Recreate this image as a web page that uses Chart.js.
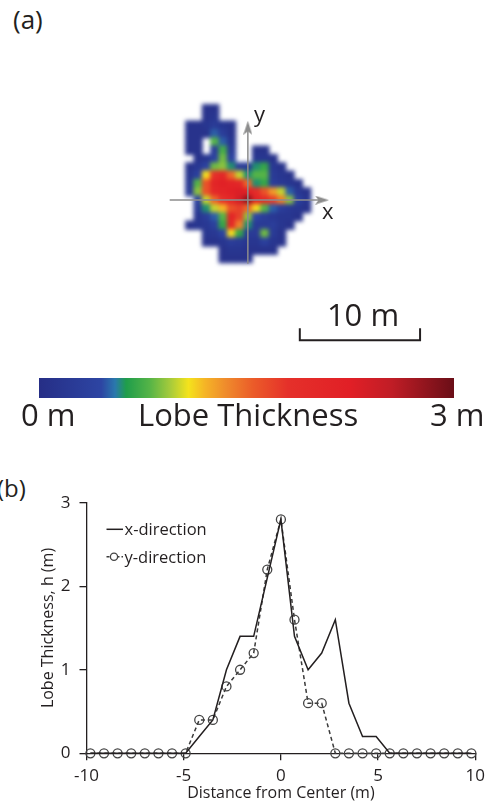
<!DOCTYPE html>
<html>
<head>
<meta charset="utf-8">
<title>Lobe thickness</title>
<script src="https://cdn.jsdelivr.net/npm/chart.js@4.4.0/dist/chart.umd.min.js"></script>
<style>
  body { margin: 0; background: #fff; }
  #page { position: relative; width: 491px; height: 805px; overflow: hidden;
          font-family: "Open Sans", sans-serif; color: #231f20; }
  .lbl { position: absolute; white-space: nowrap; line-height: 1; }
  canvas { position: absolute; }
</style>
</head>
<body>
<div id="page">
  <div class="lbl" style="left:13px;top:6px;font-size:26px">(a)</div>
  <canvas id="mapChart" width="290" height="280" style="left:150px;top:80px"></canvas>
  <canvas id="mapAxes" width="290" height="280" style="left:150px;top:80px"></canvas>
  <div class="lbl" style="left:254px;top:102px;font-size:22px">y</div>
  <div class="lbl" style="left:322px;top:199px;font-size:22px">x</div>
  <div class="lbl" style="left:263px;top:299px;width:200px;text-align:center;font-size:31px">10 m</div>

  <canvas id="colorBar" width="415" height="20" style="left:39px;top:378px"></canvas>
  <div class="lbl" style="left:21px;top:399px;font-size:31px">0 m</div>
  <div class="lbl" style="left:138px;top:399px;width:200px;text-align:center;font-size:31px">Lobe Thickness</div>
  <div class="lbl" style="left:430px;top:399px;font-size:31px">3 m</div>

  <div class="lbl" style="left:-3px;top:476px;font-size:24px">(b)</div>
  <canvas id="profileChart" width="491" height="325" style="left:0;top:480px"></canvas>
</div>

<script>
// ---- panel (b) profiles ----
var distance = [-9.8, -9.1, -8.4, -7.7, -7.0, -6.3, -5.6, -4.9, -4.2, -3.5, -2.8, -2.1, -1.4, -0.7, 0,
                0.7, 1.4, 2.1, 2.8, 3.5, 4.2, 4.9, 5.6, 6.3, 7.0, 7.7, 8.4, 9.1, 9.8];
var xDirection = [0, 0, 0, 0, 0, 0, 0, 0, 0.2, 0.4, 1.0, 1.4, 1.4, 2.1, 2.8,
                  1.4, 1.0, 1.2, 1.6, 0.6, 0.2, 0.2, 0, 0, 0, 0, 0, 0, 0];
var yDirection = [0, 0, 0, 0, 0, 0, 0, 0, 0.4, 0.4, 0.8, 1.0, 1.2, 2.2, 2.8,
                  1.6, 0.6, 0.6, 0, 0, 0, 0, 0, 0, 0, 0, 0, 0, 0];
var distanceTicks = [-10, -5, 0, 5, 10];
var thicknessTicks = [0, 1, 2, 3];

// ---- panel (a) thickness map, 0.7 m cells ----
var mapX = [-4.9, -4.2, -3.5, -2.8, -2.1, -1.4, -0.7, 0, 0.7, 1.4, 2.1, 2.8, 3.5, 4.2, 4.9];
var mapY = [7.7, 7.0, 6.3, 5.6, 4.9, 4.2, 3.5, 2.8, 2.1, 1.4, 0.7, 0, -0.7, -1.4, -2.1, -2.8, -3.5, -4.2, -4.9];
var n = null;
var mapThickness = [
  [n, n, .1, .1, n, n, n, n, n, n, n, n, n, n, n],
  [n, n, .1, .15, n, n, n, n, n, n, n, n, n, n, n],
  [.1, .1, .15, .25, .15, .1, n, n, n, n, n, n, n, n, n],
  [.1, .1, .1, .5, .3, .1, n, n, n, n, n, n, n, n, n],
  [.1, .1, n, .8, .5, .15, n, n, n, n, n, n, n, n, n],
  [.1, .1, n, .3, .75, .25, n, n, .1, .1, n, n, n, n, n],
  [n, .1, .15, .4, .85, .4, n, n, .15, .15, .1, n, n, n, n],
  [.1, .2, .4, .85, .9, .6, .3, .25, .6, .7, .2, .1, n, n, n],
  [.15, .35, 1.1, 1.8, 2.0, 1.5, 1.0, .6, .8, .8, .25, .15, .1, n, n],
  [.2, .8, 1.6, 2.1, 2.2, 2.1, 2.0, 1.5, .6, .7, .3, .2, .15, .1, n],
  [.25, .9, 1.6, 2.0, 2.1, 2.2, 2.3, 2.2, 1.9, 1.6, 1.3, 1.0, .5, .2, .1],
  [n, .4, 1.0, 1.5, 1.8, 2.0, 2.4, 2.8, 2.1, 1.9, 1.7, 1.4, .9, .35, .15],
  [n, .25, .6, 1.0, 1.2, 1.6, 1.7, 1.5, 1.1, .8, .5, .3, .2, .15, .1],
  [n, .15, .3, .5, .8, 2.1, 1.7, .9, .45, .3, .2, .15, .15, .1, n],
  [.1, .15, .2, .35, .7, 2.0, 1.4, .6, .25, .25, .3, .15, .1, n, n],
  [n, n, .15, .2, .4, 1.1, .7, .25, .25, .85, .25, .1, n, n, n],
  [n, n, .1, .1, .15, .3, .25, .15, .15, .35, .15, .1, n, n, n],
  [n, n, n, n, .1, .15, .15, .1, .1, .1, .1, n, n, n, n],
  [n, n, n, n, .1, .1, .1, .1, n, n, n, n, n, n, n]
];

// colour scale (thickness in m -> colour)
var colorStopsM = [0, 0.45, 0.55, 0.63, 0.8, 0.95, 1.08, 1.2, 1.35, 1.55, 1.8, 2.25, 2.55, 3.0];
var colorStopsHex = ['#262e86', '#2d45a3', '#2a78ad', '#1f9d4b', '#55b447', '#a7cb3b', '#f4e31c',
                     '#f5b426', '#ef8b2c', '#eb5b29', '#e5302a', '#e11f26', '#c01d26', '#6a0e17'];
var colorRange = [0, 3];
var scaleBarLength = 10; // m

var ink = '#231f20';
Chart.defaults.font.family = "'Open Sans', sans-serif";
Chart.defaults.color = ink;

function hexRgb(h) {
  return [parseInt(h.substr(1, 2), 16), parseInt(h.substr(3, 2), 16), parseInt(h.substr(5, 2), 16)];
}

function thicknessColor(v) {
  for (var k = 1; k < colorStopsM.length; k++) {
    if (v <= colorStopsM[k]) {
      var f = (v - colorStopsM[k - 1]) / (colorStopsM[k] - colorStopsM[k - 1]);
      var a = hexRgb(colorStopsHex[k - 1]), b = hexRgb(colorStopsHex[k]);
      return 'rgb(' + Math.round(a[0] + (b[0] - a[0]) * f) + ',' + Math.round(a[1] + (b[1] - a[1]) * f) + ',' + Math.round(a[2] + (b[2] - a[2]) * f) + ')';
    }
  }
  return colorStopsHex[colorStopsHex.length - 1];
}

// map panel scales: 12.5 px per metre, origin of the axes at page (246,199)
function mapScales() {
  return {
    x: { type: 'linear', display: false, min: -7.68, max: 15.52 },
    y: { type: 'linear', display: false, min: -12.856, max: 9.544 }
  };
}

// smooth the blocky cells a little, like the gridded image in the figure
var soften = {
  id: 'soften',
  afterDatasetsDraw: function (chart) {
    var c = chart.canvas, ctx = chart.ctx;
    var tmp = document.createElement('canvas');
    tmp.width = c.width; tmp.height = c.height;
    tmp.getContext('2d').drawImage(c, 0, 0);
    ctx.save();
    ctx.setTransform(1, 0, 0, 1, 0, 0);
    ctx.clearRect(0, 0, c.width, c.height);
    ctx.filter = 'blur(2.2px)';
    ctx.drawImage(tmp, 0, 0);
    ctx.restore();
  }
};

// thickness map
var mapCells = [];
mapY.forEach(function (y, r) {
  mapX.forEach(function (x, c) {
    var v = mapThickness[r][c];
    if (v !== null) mapCells.push({ x: x, y: y, v: v });
  });
});

new Chart('mapChart', {
  type: 'scatter',
  data: { datasets: [{
    data: mapCells,
    pointStyle: 'rect',
    pointRadius: 6.6,
    pointBorderWidth: 0,
    pointBackgroundColor: function (c) { return thicknessColor(c.raw.v); }
  }] },
  options: {
    responsive: false, animation: false, events: [], devicePixelRatio: 1,
    layout: { padding: 0 },
    plugins: { legend: { display: false }, tooltip: { enabled: false } },
    scales: mapScales()
  },
  plugins: [soften]
});

// arrow head used on the x / y axes of the map
var arrowHead = document.createElement('canvas');
arrowHead.width = 14; arrowHead.height = 9;
(function () {
  var g = arrowHead.getContext('2d');
  g.fillStyle = '#8c8c8c';
  g.beginPath(); g.moveTo(0, 0); g.lineTo(14, 4.5); g.lineTo(0, 9); g.lineTo(3.5, 4.5); g.closePath(); g.fill();
})();

var axisLine = { showLine: true, borderColor: '#8c8c8c', borderWidth: 1.5,
                 pointStyle: ['circle', arrowHead], pointRadius: [0, 1] };

new Chart('mapAxes', {
  type: 'scatter',
  data: { datasets: [
    Object.assign({ data: [{ x: -6.5, y: 0 }, { x: 6.16, y: 0 }], pointRotation: [0, 0] }, axisLine),
    Object.assign({ data: [{ x: 0, y: -5.3 }, { x: 0, y: 6.02 }], pointRotation: [0, -90] }, axisLine),
    { data: [{ x: 4.32, y: -10.67 }, { x: 4.32, y: -11.66 }, { x: 4.32 + scaleBarLength, y: -11.66 }, { x: 4.32 + scaleBarLength, y: -10.67 }],
      showLine: true, borderColor: ink, borderWidth: 2, pointRadius: 0 }
  ] },
  options: {
    responsive: false, animation: false, events: [], devicePixelRatio: 1,
    layout: { padding: 0 },
    plugins: { legend: { display: false }, tooltip: { enabled: false } },
    scales: mapScales()
  }
});

// colour bar
new Chart('colorBar', {
  type: 'bar',
  data: { labels: [''], datasets: [{
    data: [colorRange[1]],
    barPercentage: 1, categoryPercentage: 1, borderWidth: 0,
    backgroundColor: function (c) {
      var area = c.chart.chartArea;
      if (!area) return colorStopsHex[0];
      var grad = c.chart.ctx.createLinearGradient(area.left, 0, area.right, 0);
      colorStopsM.forEach(function (m, k) { grad.addColorStop(m / colorRange[1], colorStopsHex[k]); });
      return grad;
    }
  }] },
  options: {
    indexAxis: 'y', responsive: false, animation: false, events: [], devicePixelRatio: 1,
    layout: { padding: 0 },
    plugins: { legend: { display: false }, tooltip: { enabled: false } },
    scales: {
      x: { display: false, min: colorRange[0], max: colorRange[1] },
      y: { display: false }
    }
  }
});

// legend drawn inside the plot area of (b)
var insideLegend = {
  id: 'insideLegend',
  afterDatasetsDraw: function (chart) {
    var ctx = chart.ctx;
    ctx.save();
    ctx.strokeStyle = ink; ctx.lineWidth = 1.5;
    ctx.beginPath(); ctx.moveTo(106.5, 49.3); ctx.lineTo(123, 49.3); ctx.stroke();
    ctx.strokeStyle = '#3a3a3a';
    ctx.setLineDash([3, 2]);
    ctx.beginPath(); ctx.moveTo(106.5, 76.7); ctx.lineTo(123, 76.7); ctx.stroke();
    ctx.setLineDash([]);
    ctx.fillStyle = '#fff'; ctx.strokeStyle = '#444'; ctx.lineWidth = 1.3;
    ctx.beginPath(); ctx.arc(114, 76.7, 3.6, 0, Math.PI * 2); ctx.fill(); ctx.stroke();
    ctx.fillStyle = ink;
    ctx.font = "16.5px 'Open Sans', sans-serif";
    ctx.textBaseline = 'alphabetic';
    ctx.fillText('x-direction', 124.5, 55);
    ctx.fillText('y-direction', 124.5, 83);
    ctx.restore();
  }
};

function pairs(ys) {
  return ys.map(function (v, k) { return { x: distance[k], y: v }; });
}

var axisFont = { size: 17 };
var titleFont = { size: 16 };

new Chart('profileChart', {
  type: 'line',
  data: { datasets: [
    { label: 'x-direction', data: pairs(xDirection), borderColor: ink, borderWidth: 1.5,
      pointRadius: 0, tension: 0, clip: false },
    { label: 'y-direction', data: pairs(yDirection), borderColor: '#3a3a3a', borderWidth: 1.5,
      borderDash: [4, 3], pointRadius: 4.5, pointBorderColor: '#444', pointBorderWidth: 1.3,
      pointBackgroundColor: 'rgba(255,255,255,0)', tension: 0, clip: false }
  ] },
  options: {
    responsive: false, animation: false, events: [], devicePixelRatio: 1,
    layout: { padding: { left: 38, top: 22.7, right: 7, bottom: 0 } },
    plugins: { legend: { display: false }, tooltip: { enabled: false } },
    scales: {
      x: {
        type: 'linear', min: -10, max: 10,
        afterBuildTicks: function (s) { s.ticks = distanceTicks.map(function (v) { return { value: v }; }); },
        afterFit: function (s) { s.height = 51.7; },
        ticks: { font: axisFont, color: ink, padding: 6, maxRotation: 0 },
        grid: { drawOnChartArea: false, tickLength: 7, color: ink, lineWidth: 1.3 },
        border: { color: ink, width: 1.3 },
        title: { display: true, text: 'Distance from Center (m)', font: titleFont, color: ink,
                 padding: { top: 0, bottom: 2 } }
      },
      y: {
        min: 0, max: 3,
        afterBuildTicks: function (s) { s.ticks = thicknessTicks.map(function (v) { return { value: v }; }); },
        afterFit: function (s) { s.width = 48.5; },
        ticks: { font: axisFont, color: ink, padding: 9 },
        grid: { drawOnChartArea: false, tickLength: 7, color: ink, lineWidth: 1.3 },
        border: { color: ink, width: 1.3 },
        title: { display: true, text: 'Lobe Thickness, h (m)', font: titleFont, color: ink,
                 padding: { top: 1, bottom: 0 } }
      }
    }
  },
  plugins: [insideLegend]
});
</script>
</body>
</html>
